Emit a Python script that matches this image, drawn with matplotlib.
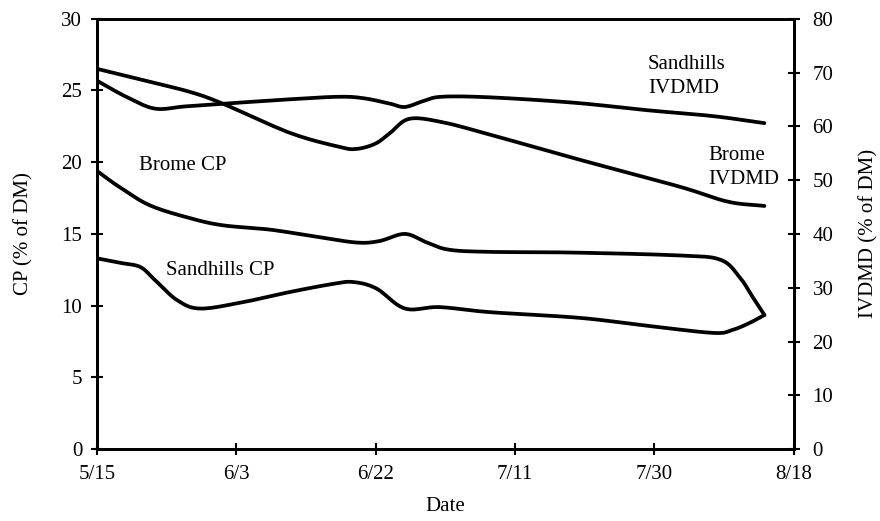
import matplotlib
matplotlib.use("Agg")
import matplotlib.pyplot as plt
import numpy as np

plt.rcParams['font.family'] = ['Liberation Serif', 'DejaVu Serif']

# x in days after 5/15
date_ticks = [0, 19, 38, 57, 76, 95]
date_labels = ["5/15", "6/3", "6/22", "7/11", "7/30", "8/18"]

# Brome CP (left axis, %)
brome_cp_x = [0, 3, 7.2, 12.7, 17.2, 23.6, 30, 35.4, 38.5, 42, 45, 48, 53.5, 65, 79.4, 85, 87.6, 89.4, 91]
brome_cp_y = [19.4, 18.3, 17.0, 16.1, 15.6, 15.3, 14.8, 14.4, 14.5, 15.0, 14.4, 13.9, 13.75, 13.7, 13.5, 13.2, 12.0, 10.6, 9.35]

# Sandhills CP (left axis, %)
sand_cp_x = [0, 3, 5.9, 7.9, 10.9, 14, 19.5, 26.3, 32, 34.9, 38.1, 42, 46.7, 53.5, 65.8, 75, 84, 86.6, 89, 91]
sand_cp_y = [13.3, 13.0, 12.7, 11.8, 10.4, 9.8, 10.2, 10.95, 11.5, 11.65, 11.2, 9.8, 9.9, 9.55, 9.15, 8.6, 8.1, 8.3, 8.8, 9.35]

# Brome IVDMD (right axis, %)
brome_iv_x = [0, 6, 12.7, 17.2, 26.3, 33, 35.4, 38, 40, 42.6, 47, 53.5, 65.8, 79.4, 86, 91]
brome_iv_y = [70.7, 68.7, 66.4, 64.2, 58.8, 56.2, 55.8, 56.8, 58.8, 61.4, 60.8, 58.5, 53.8, 48.8, 46.0, 45.2]

# Sandhills IVDMD (right axis, %)
sand_iv_x = [0, 4, 7.9, 12, 17.2, 26, 33, 36.5, 40, 42, 44.5, 47, 53.5, 65, 75, 84, 91]
sand_iv_y = [68.5, 65.5, 63.3, 63.7, 64.2, 65.0, 65.5, 65.2, 64.2, 63.6, 64.7, 65.5, 65.4, 64.4, 63.0, 61.9, 60.6]


def smooth(x, y, n=12):
    x = np.asarray(x, float)
    y = np.asarray(y, float)
    px = np.concatenate([[2 * x[0] - x[1]], x, [2 * x[-1] - x[-2]]])
    py = np.concatenate([[2 * y[0] - y[1]], y, [2 * y[-1] - y[-2]]])
    ox, oy = [], []
    for i in range(1, len(px) - 2):
        t = np.linspace(0, 1, n, endpoint=False)
        for arr, out in ((px, ox), (py, oy)):
            p0, p1, p2, p3 = arr[i - 1], arr[i], arr[i + 1], arr[i + 2]
            out.extend(0.5 * ((2 * p1) + (-p0 + p2) * t + (2 * p0 - 5 * p1 + 4 * p2 - p3) * t ** 2
                              + (-p0 + 3 * p1 - 3 * p2 + p3) * t ** 3))
    ox.append(x[-1]); oy.append(y[-1])
    return ox, oy


fig = plt.figure(figsize=(8.8, 5.21), dpi=100)
ax = fig.add_axes([0.110, 0.138, 0.792, 0.826])
ax2 = ax.twinx()

lw = 2.7
for xs, ys in ((brome_cp_x, brome_cp_y), (sand_cp_x, sand_cp_y)):
    sx, sy = smooth(xs, ys)
    ax.plot(sx, sy, color='black', lw=lw, solid_capstyle='round', solid_joinstyle='round')
for xs, ys in ((brome_iv_x, brome_iv_y), (sand_iv_x, sand_iv_y)):
    sx, sy = smooth(xs, ys)
    ax2.plot(sx, sy, color='black', lw=lw, solid_capstyle='round', solid_joinstyle='round')

ax.set_xlim(0, 95)
ax.set_ylim(0, 30)
ax2.set_ylim(0, 80)
ax.set_xticks(date_ticks)
ax.set_xticklabels(date_labels)
ax.set_yticks(range(0, 31, 5))
ax2.set_yticks(range(0, 81, 10))

fs = 15
for a in (ax, ax2):
    for s in a.spines.values():
        s.set_linewidth(2.0)
    a.tick_params(direction='inout', length=9, width=1.5, labelsize=fs, colors='black')
ax.tick_params(axis='y', pad=6)
ax.tick_params(axis='x', pad=7)
ax2.tick_params(axis='y', pad=9)
ax.spines['top'].set_linewidth(1.8)

ax.set_xlabel('Date', fontsize=fs)
ax.set_ylabel('CP (% of DM)', fontsize=fs)
ax2.set_ylabel('IVDMD (% of DM)', fontsize=fs, rotation=90)
ax.xaxis.set_label_coords(0.5, -0.134)
ax.yaxis.set_label_coords(-0.105, 0.5)
ax2.yaxis.set_label_coords(1.108, 0.5)
for lab in (ax.xaxis.label, ax.yaxis.label, ax2.yaxis.label):
    lab.set_verticalalignment('center')
    lab.set_horizontalalignment('center')
    lab.set_rotation_mode('anchor')

ax.text(5.7, 19.75, 'Brome CP', fontsize=fs, va='center', ha='left')
ax.text(9.4, 12.45, 'Sandhills CP', fontsize=fs, va='center', ha='left')
ax2.text(75.1, 69.2, 'Sandhills\nIVDMD', fontsize=fs, va='center', ha='left', linespacing=1.35)
ax2.text(83.4, 52.4, 'Brome\nIVDMD', fontsize=fs, va='center', ha='left', linespacing=1.35)

fig.savefig('out.png', dpi=100, facecolor='white')
